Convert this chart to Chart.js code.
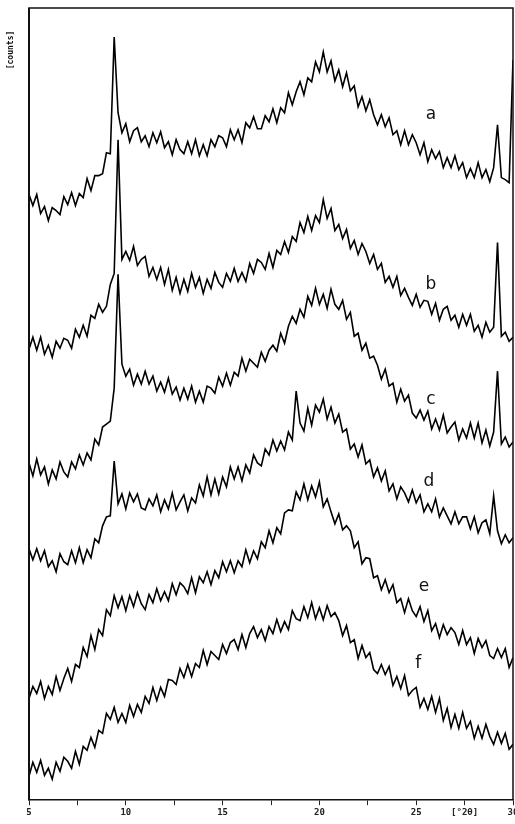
<!DOCTYPE html>
<html>
<head>
<meta charset="utf-8">
<title>XRD patterns a-f</title>
<script src="https://cdn.jsdelivr.net/npm/chart.js@4.4.1/dist/chart.umd.min.js"></script>
<style>
    html, body { margin: 0; padding: 0; background: #fff; }
    #wrap { width: 515px; height: 824px; }
</style>
</head>
<body>
<div id="wrap"><canvas id="xrdChart"></canvas></div>
<script>
// ----------- Data -----------
const twoTheta = [
    5.0,5.2,5.4,5.6,5.8,6.0,6.2,6.4,6.6,6.8,
    7.0,7.2,7.4,7.6,7.8,8.0,8.2,8.4,8.6,8.8,
    9.0,9.2,9.4,9.6,9.8,10.0,10.2,10.4,10.6,10.8,
    11.0,11.2,11.4,11.6,11.8,12.0,12.2,12.4,12.6,12.8,
    13.0,13.2,13.4,13.6,13.8,14.0,14.2,14.4,14.6,14.8,
    15.0,15.2,15.4,15.6,15.8,16.0,16.2,16.4,16.6,16.8,
    17.0,17.2,17.4,17.6,17.8,18.0,18.2,18.4,18.6,18.8,
    19.0,19.2,19.4,19.6,19.8,20.0,20.2,20.4,20.6,20.8,
    21.0,21.2,21.4,21.6,21.8,22.0,22.2,22.4,22.6,22.8,
    23.0,23.2,23.4,23.6,23.8,24.0,24.2,24.4,24.6,24.8,
    25.0,25.2,25.4,25.6,25.8,26.0,26.2,26.4,26.6,26.8,
    27.0,27.2,27.4,27.6,27.8,28.0,28.2,28.4,28.6,28.8,
    29.0,29.2,29.4,29.6,29.8,30.0
];

// counts (curves stacked with offsets, as in the plot)
const curveA = [
    607,596,607,588,595,581,594,591,587,605,
    597,609,596,608,604,623,611,626,626,628,
    649,648,765,689,669,678,660,671,674,660,
    666,655,669,659,670,654,660,647,662,652,
    648,660,648,662,646,657,646,662,655,666,
    664,655,672,662,672,659,679,674,685,673,
    673,686,680,693,679,694,689,709,697,710,
    720,707,724,720,740,730,750,730,741,721,
    732,715,729,711,716,695,705,691,702,687,
    677,687,675,684,667,671,657,671,657,667,
    659,647,659,640,652,643,650,634,644,634,
    646,632,639,624,633,624,639,624,632,620,
    634,677,624,622,619,742
];
const curveB = [
    452,464,451,464,447,456,444,460,453,463,
    461,453,472,464,476,465,486,483,497,489,
    495,517,528,662,542,550,541,555,536,542,
    545,525,534,522,534,517,532,511,524,508,
    522,510,528,514,524,508,522,513,529,519,
    514,528,520,533,520,529,520,538,528,542,
    539,532,548,534,551,547,560,549,565,560,
    579,569,585,571,586,579,602,583,593,571,
    577,563,572,553,561,547,558,550,538,547,
    532,538,519,525,514,525,506,513,504,496,
    507,494,501,500,487,498,481,492,495,481,
    486,474,487,476,487,470,476,464,479,469,
    474,559,465,469,460,464
];
const curveC = [
    338,325,342,326,334,317,331,322,339,329,
    324,339,332,346,336,348,341,362,356,374,
    377,380,413,527,437,425,432,416,427,417,
    430,417,425,410,419,409,423,407,414,401,
    413,402,415,399,410,399,415,413,408,424,
    415,428,416,429,425,443,430,442,438,434,
    449,440,451,456,450,468,458,475,485,478,
    492,484,505,496,513,497,507,493,512,497,
    492,501,482,489,465,468,451,458,443,445,
    436,422,432,415,418,399,412,400,406,388,
    383,391,381,390,372,382,371,386,368,374,
    379,361,372,363,378,363,378,358,371,355,
    369,430,357,364,354,359
];
const curveD = [
    252,241,252,240,250,234,240,229,247,239,
    236,250,238,253,238,251,243,262,258,275,
    284,285,340,297,307,292,308,299,307,293,
    291,302,295,306,289,301,292,308,291,299,
    306,290,303,298,316,305,324,306,322,307,
    324,314,334,322,334,320,336,328,346,338,
    335,352,346,361,350,360,351,369,361,410,
    378,370,393,376,396,389,402,382,394,378,
    387,369,372,352,357,344,356,337,341,324,
    333,320,330,310,317,302,314,308,299,311,
    298,306,289,297,289,302,284,293,285,277,
    289,277,284,284,272,284,268,278,281,267,
    305,270,257,266,258,263
];
const curveE = [
    102,114,107,119,102,114,106,124,110,122,
    132,119,136,133,153,144,165,151,171,165,
    191,185,205,193,204,190,205,194,208,197,
    191,206,198,212,200,209,200,217,206,218,
    214,207,223,208,224,218,229,216,230,223,
    239,229,240,228,240,234,251,238,250,242,
    259,253,270,258,273,267,288,291,290,309,
    301,317,301,315,304,319,294,302,289,277,
    287,271,275,270,253,259,237,243,242,223,
    225,211,221,208,216,198,202,188,202,190,
    184,194,179,190,170,177,163,176,166,173,
    168,156,170,156,163,147,162,153,160,145,
    142,152,143,152,133,143
];
const curveF = [
    24,38,28,40,25,32,21,38,29,43,
    39,32,49,36,54,50,63,53,70,67,
    87,81,93,78,87,78,95,84,96,88,
    104,97,113,100,113,104,121,120,116,132,
    123,136,124,137,133,150,136,149,145,141,
    156,147,158,161,151,166,153,167,174,163,
    171,160,174,167,181,169,179,171,190,182,
    180,194,183,198,182,193,181,195,184,188,
    180,165,175,158,161,142,155,143,148,131,
    127,136,126,134,115,124,112,125,105,110,
    113,93,102,91,104,88,102,80,92,73,
    86,72,88,72,79,62,74,62,76,64,
    56,68,57,67,51,56
];

const curveNames = ["a", "b", "c", "d", "e", "f"];
const curves = [curveA, curveB, curveC, curveD, curveE, curveF];

// where the letters sit (2theta, counts)
const letterAt = [[25.76, 687], [25.76, 517], [25.76, 402], [25.66, 319], [25.4, 214], [25.1, 137]];

const xTicks = [5, 10, 15, 20, 25, 30];
const xUnit = "[°2θ]";
const yTitle = "[counts]";

// ----------- Plugins -----------
const whiteBg = {
    id: "whiteBg",
    beforeDraw(chart) {
        const c = chart.ctx;
        c.save();
        c.fillStyle = "#fff";
        c.fillRect(0, 0, chart.width, chart.height);
        c.restore();
    }
};

const frameAndText = {
    id: "frameAndText",
    afterDraw(chart) {
        const c = chart.ctx;
        const a = chart.chartArea;
        const sx = chart.scales.x, sy = chart.scales.y;
        c.save();
        c.strokeStyle = "#111";
        c.lineWidth = 1.5;
        c.beginPath();
        c.moveTo(a.left, a.bottom);
        c.lineTo(a.left, a.top);
        c.lineTo(a.right, a.top);
        c.lineTo(a.right, a.bottom);
        c.stroke();
        c.lineWidth = 2;
        c.beginPath();
        c.moveTo(a.left, a.top);
        c.lineTo(a.left, a.bottom);
        c.stroke();

        // curve letters
        c.fillStyle = "#111";
        c.font = "17px 'DejaVu Sans'";
        c.textAlign = "center";
        c.textBaseline = "middle";
        curveNames.forEach((n, i) => {
            c.fillText(n, sx.getPixelForValue(letterAt[i][0]), sy.getPixelForValue(letterAt[i][1]));
        });

        // y title at the top of the axis
        c.translate(a.left - 18, a.top + 42);
        c.rotate(-Math.PI / 2);
        c.font = "bold 8px 'DejaVu Sans Mono'";
        c.fillText(yTitle, 0, 0);
        c.restore();
    }
};

// ----------- Chart -----------
const datasets = curves.map((vals, i) => ({
    label: curveNames[i],
    data: twoTheta.map((t, j) => ({ x: t, y: vals[j] })),
    borderColor: "#000",
    borderWidth: 1.6,
    pointRadius: 0,
    tension: 0
}));

new Chart(document.getElementById("xrdChart"), {
    type: "line",
    data: { datasets },
    plugins: [whiteBg, frameAndText],
    options: {
        responsive: true,
        maintainAspectRatio: false,
        animation: false,
        layout: { padding: { left: 29, right: 2, top: 8, bottom: 4 } },
        plugins: { legend: { display: false }, tooltip: { enabled: false } },
        scales: {
            x: {
                type: "linear",
                min: 5,
                max: 30,
                afterFit(scale) { scale.paddingRight = 0; },
                ticks: {
                    stepSize: 2.5,
                    autoSkip: false,
                    maxRotation: 0,
                    padding: 2,
                    color: "#222",
                    font: { family: "DejaVu Sans Mono", size: 9, weight: "bold" },
                    callback: v => xTicks.includes(v) ? String(v) : (v === 27.5 ? xUnit : "")
                },
                grid: { drawOnChartArea: false, tickLength: 5, color: "#222" },
                border: { color: "#111", width: 1.5 }
            },
            y: { display: false, min: 0, max: 794 }
        }
    }
});
</script>
</body>
</html>
